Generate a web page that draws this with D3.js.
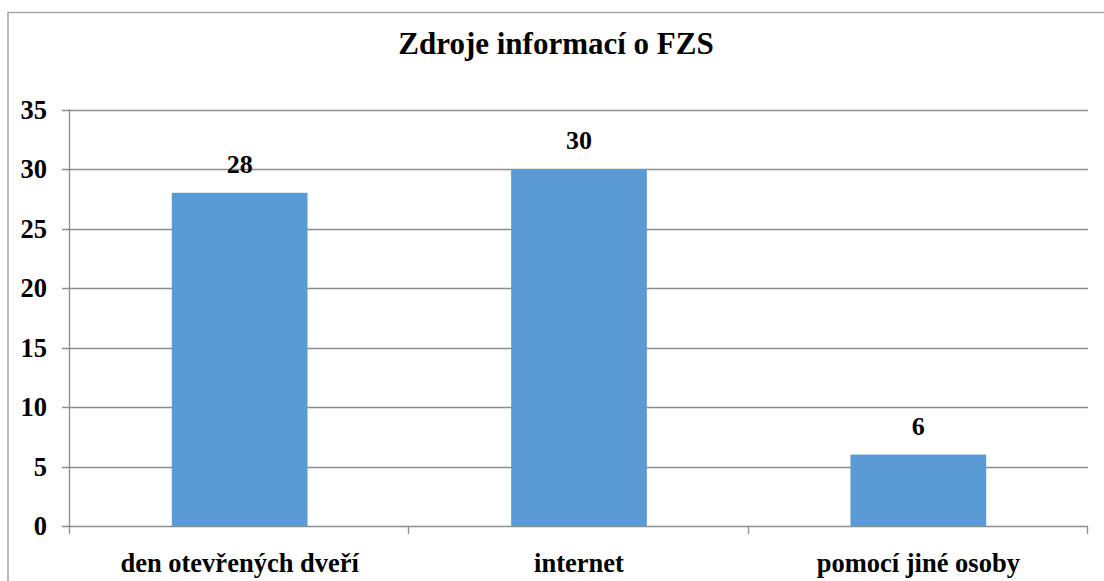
<!DOCTYPE html>
<html><head><meta charset="utf-8">
<script src="https://cdn.jsdelivr.net/npm/d3@7"></script>
<style>
html,body{margin:0;padding:0;background:#fff;overflow:hidden;}
svg{display:block;}
</style></head>
<body>
<svg id="chart" width="1104" height="581"></svg>
<script>
const categories = ["den otevřených dveří", "internet", "pomocí jiné osoby"];
const values = [28, 30, 6];
const yTicks = [0, 5, 10, 15, 20, 25, 30, 35];
const title = "Zdroje informací o FZS";

const FONT = "Liberation Serif, Times New Roman, serif";
const svg = d3.select("#chart");
const plot = {left: 70, right: 1088, top: 109.5, bottom: 526};

const x = d3.scaleBand().domain(categories).range([plot.left, plot.right]).padding(0);
const y = d3.scaleLinear().domain([0, 35]).range([plot.bottom, plot.top]);

svg.append("rect").attr("x", 8).attr("y", 12.5).attr("width", 1200).attr("height", 700)
  .attr("fill", "none").attr("stroke", "#a6a6a6").attr("stroke-width", 1.5);

svg.append("text").attr("x", 556).attr("y", 54).attr("text-anchor", "middle")
  .attr("font-family", FONT)
  .attr("font-size", 31).attr("font-weight", 700).attr("fill", "#000").text(title);

svg.append("g").selectAll("line").data(yTicks).join("line")
  .attr("x1", plot.left - 8).attr("x2", plot.right)
  .attr("y1", d => Math.round(y(d)) + 0.5).attr("y2", d => Math.round(y(d)) + 0.5)
  .attr("stroke", "#8c8c8c").attr("stroke-width", 1.3);

svg.append("line").attr("x1", plot.left - 0.5).attr("x2", plot.left - 0.5)
  .attr("y1", plot.top).attr("y2", plot.bottom + 1)
  .attr("stroke", "#8c8c8c").attr("stroke-width", 1.3);

const bounds = categories.map(c => x(c)).concat([plot.right]);
svg.append("g").selectAll("line").data(bounds).join("line")
  .attr("x1", d => Math.round(d) - 0.5).attr("x2", d => Math.round(d) - 0.5)
  .attr("y1", plot.bottom).attr("y2", plot.bottom + 8)
  .attr("stroke", "#8c8c8c").attr("stroke-width", 1.3);

svg.append("g").selectAll("text").data(yTicks).join("text")
  .attr("font-family", FONT)
  .attr("x", 47).attr("y", d => y(d) + 9).attr("text-anchor", "end")
  .attr("font-size", 26.5).attr("font-weight", 700).text(d => d);

const bw = x.bandwidth() * 0.4;
svg.append("g").selectAll("rect").data(values).join("rect")
  .attr("x", (d, i) => x(categories[i]) + x.bandwidth() / 2 - bw / 2)
  .attr("width", bw)
  .attr("y", d => y(d)).attr("height", d => y(0) - y(d))
  .attr("fill", "#5b9bd5");

svg.append("g").selectAll("text").data(values).join("text")
  .attr("font-family", FONT)
  .attr("x", (d, i) => x(categories[i]) + x.bandwidth() / 2)
  .attr("y", d => y(d) - 20).attr("text-anchor", "middle")
  .attr("font-size", 26).attr("font-weight", 700).text(d => d);

svg.append("g").selectAll("text").data(categories).join("text")
  .attr("font-family", FONT)
  .attr("x", d => x(d) + x.bandwidth() / 2).attr("y", 572)
  .attr("text-anchor", "middle").attr("font-size", 26.5).attr("font-weight", 700).text(d => d);
</script>
</body></html>
